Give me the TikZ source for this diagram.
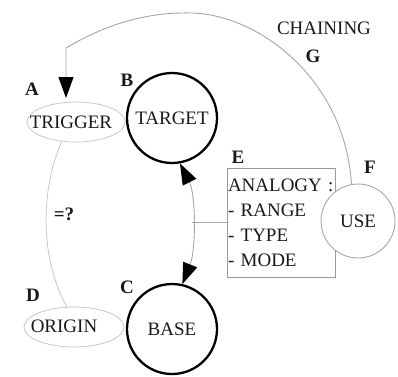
\documentclass[tikz,border=0pt]{standalone}
\usepackage{fontspec}
\setmainfont{Liberation Serif}
\usetikzlibrary{arrows.meta,shapes.geometric}
\tikzset{mytip/.tip={Triangle[length=21pt,width=15pt,color=black]}}
\begin{document}
\begin{tikzpicture}[x=1pt,y=-1pt,
  txt/.style={font=\fontsize{19}{25}\selectfont, text=black!90},
  lbl/.style={font=\fontsize{19}{22}\selectfont\bfseries, text=black!90},
  bigcirc/.style={circle, draw=black, line width=2.3pt, minimum size=90pt, inner sep=0pt, txt},
  faintell/.style={ellipse, draw=black!22, line width=0.8pt, inner sep=0pt},
  faintline/.style={draw=black!35, line width=0.9pt}
]
\useasboundingbox (0,0) rectangle (398,376);

% nodes
\node[bigcirc] (target) at (172,118) {TARGET};
\node[bigcirc] (base) at (172,329) {BASE};
\node[faintell, minimum width=98pt, minimum height=40pt] (trigger) at (76,122) {};
\node[txt] (triggertxt) at (71,122) {TRIGGER};
\node[faintell, minimum width=100pt, minimum height=40pt] (origin) at (74,327) {};
\node[txt] (origintxt) at (64,326) {ORIGIN};
\node[rectangle, draw=black!40, line width=0.9pt, minimum width=108pt, minimum height=109pt,
      text width=106pt, align=left, inner xsep=1pt, inner ysep=0pt, txt] (box) at (281,222.5)
  {ANALOGY :\\- RANGE\\- TYPE\\- MODE\\[-3pt]};
\node[circle, draw=black!35, fill=white, line width=0.9pt, minimum size=74pt, inner sep=0pt, txt] (use) at (358,221) {USE};

% labels
\node[lbl] (la) at (32,89) {A};
\node[lbl] (lb) at (127,80) {B};
\node[lbl] (lc) at (127,287) {C};
\node[lbl] (ld) at (33,295) {D};
\node[lbl] (le) at (238,157) {E};
\node[lbl] (lf) at (370,167) {F};
\node[lbl] (lg) at (313,56) {G};
\node[lbl] (leq) at (64,214) {=?};
\node[txt] (chain) at (324,28) {CHAINING};

% connectors
\coordinate (chainend) at (66,98);
\draw[faintline, -{mytip}] (use.100) .. controls (345,80) and (260,15) .. (192,13)
   .. controls (150,12) and (110,22) .. (66,48) -- (chainend);
\draw[faintline, {mytip}-{mytip}] (target.-80) .. controls (196,195) and (196,250) .. coordinate[pos=0.5] (mid) (base.77);
\draw[faintline] (mid) -- (mid -| box.west);
\draw[draw=black!22, line width=0.8pt] (trigger.-126) .. controls (40,190) and (40,260) .. (origin.109);
\end{tikzpicture}
\end{document}
